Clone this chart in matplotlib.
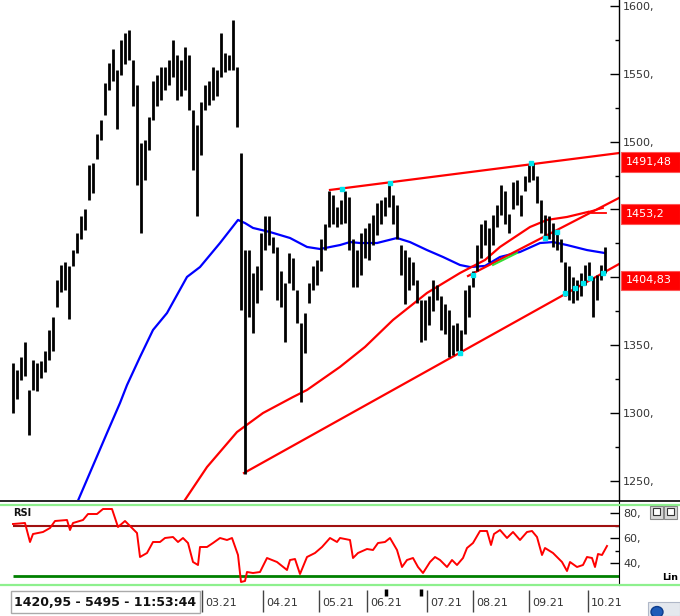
import matplotlib
matplotlib.use('Agg')
import matplotlib.pyplot as plt
from matplotlib.lines import Line2D
from matplotlib.patches import Rectangle, Circle
import matplotlib.transforms as mtransforms
from matplotlib.ticker import FixedLocator, FuncFormatter

W, H = 680, 616

# ---------------- data ----------------
bar_high = [1337, 1332, 1341, 1352, 1317, 1339, 1337, 1338, 1346, 1361,
            1371, 1398, 1409, 1411, 1408, 1420, 1433, 1445, 1450, 1483,
            1484, 1506, 1516, 1543, 1558, 1568, 1553, 1575, 1580, 1582,
            1560, 1542, 1499, 1501, 1518, 1545, 1549, 1555, 1555, 1560,
            1575, 1564, 1560, 1570, 1564, 1523, 1512, 1529, 1542, 1545,
            1555, 1553, 1580, 1565, 1564, 1590, 1555, 1492, 1420, 1420,
            1403, 1408, 1433, 1445, 1445, 1430, 1422, 1405, 1396, 1418,
            1414, 1391, 1366, 1374, 1396, 1408, 1413, 1428, 1439, 1464,
            1461, 1452, 1457, 1464, 1459, 1428, 1420, 1433, 1436, 1440,
            1446, 1455, 1457, 1459, 1470, 1461, 1453, 1424, 1420, 1415,
            1411, 1398, 1383, 1383, 1386, 1398, 1394, 1386, 1380, 1376,
            1365, 1366, 1361, 1391, 1394, 1405, 1424, 1439, 1442, 1436,
            1446, 1453, 1468, 1464, 1447, 1470, 1472, 1461, 1475, 1483,
            1484, 1475, 1457, 1446, 1445, 1440, 1435, 1428, 1411, 1408,
            1400, 1398, 1403, 1409, 1411, 1400, 1402, 1409, 1422]
bar_low = [1300, 1310, 1324, 1327, 1284, 1317, 1316, 1326, 1330, 1339,
           1346, 1378, 1389, 1391, 1369, 1408, 1418, 1428, 1435, 1457,
           1462, 1487, 1501, 1520, 1538, 1545, 1509, 1549, 1557, 1560,
           1526, 1468, 1433, 1472, 1494, 1516, 1526, 1531, 1538, 1542,
           1548, 1531, 1534, 1538, 1523, 1479, 1445, 1490, 1523, 1527,
           1531, 1534, 1548, 1551, 1553, 1553, 1511, 1376, 1255, 1371,
           1359, 1381, 1391, 1420, 1424, 1418, 1383, 1378, 1352, 1396,
           1391, 1366, 1308, 1344, 1381, 1391, 1394, 1405, 1420, 1437,
           1439, 1437, 1439, 1440, 1420, 1393, 1393, 1402, 1414, 1413,
           1424, 1431, 1439, 1445, 1452, 1439, 1428, 1402, 1380, 1391,
           1394, 1381, 1352, 1354, 1365, 1375, 1383, 1361, 1358, 1341,
           1343, 1346, 1344, 1358, 1371, 1393, 1405, 1414, 1424, 1411,
           1424, 1437, 1446, 1439, 1433, 1450, 1453, 1445, 1464, 1470,
           1472, 1455, 1433, 1430, 1428, 1422, 1420, 1411, 1386, 1383,
           1381, 1383, 1386, 1394, 1398, 1371, 1383, 1398, 1403]

# blue moving average (bar index, value)
ma_blue_idx = [15.75, 23.5, 26.75, 28.5, 31.75, 35, 38.5, 43.5, 46.75, 51.75,
               56.25, 58, 60, 64.25, 69.25, 73.5, 76.75, 81.75, 84.25, 86.75,
               91, 96, 99.25, 103.5, 107.5, 111.75, 114.25, 118, 121.75, 126.75,
               131.75, 135, 138.5, 143.5, 148]
ma_blue_val = [1232, 1285.3, 1307.4, 1320.6, 1341.3, 1361.2, 1373.7, 1400.3, 1407.6, 1425.3,
               1442.3, 1440, 1436.4, 1433.4, 1429, 1422.4, 1420.9, 1423.8, 1426, 1425.3,
               1425.3, 1429, 1426, 1420.1, 1415, 1409.1, 1407.6, 1408.4, 1415, 1418.7,
               1425.3, 1426, 1423.8, 1420.1, 1417.9]

# red curved average (bar index, value)
ma_red_idx = [43, 48.5, 56, 62.5, 70, 73.5, 81.75, 88, 95, 103.5,
              111.75, 118, 121.75, 129.25, 133.5, 138.5, 143.75]
ma_red_val = [1236, 1260.2, 1286, 1300, 1311.8, 1317, 1334, 1348.7, 1368.6, 1388.5,
              1403.2, 1412.8, 1422.4, 1437.1, 1442.3, 1444.5, 1448.2]

# trend lines: (start idx, start val, end idx, end val)
resistance = (79.25, 1464.4, 151.5, 1491.6)
support = (57.75, 1255.8, 151.5, 1409.8)
channel = (113.75, 1401.0, 151.5, 1458.5)
green_seg = (120.0, 1409.1, 126.0, 1417.9)

cyan_idx = [82.25, 94.25, 129.5, 111.75, 115, 133, 136, 138, 140.5, 142.5, 144.25, 147.5]
cyan_val = [1465.1, 1469.5, 1484.3, 1344.2, 1401.7, 1429, 1433.4, 1388.5, 1392.2,
            1395.8, 1399.5, 1403.2]

price_labels = ["1491,48", "1453,2", "1404,83"]
hidden_ticks = [1400, 1450]   # covered by the value boxes in the picture

# RSI trace (bar index, value)
rsi_idx = [0, 3, 4.25, 5, 7.5, 9.25, 10.5, 13.5, 14.25, 15, 17.5, 18.75, 21, 22.5,
           24.75, 26.25, 28, 31, 31.75, 33.5, 35, 36.75, 38, 40, 41.25, 42.5, 43.75,
           45, 46.25, 46.75, 48.5, 50, 51.75, 53.5, 54.75, 56.25, 57, 58, 58.5, 60,
           61.75, 63.5, 66, 68.5, 69.25, 70.5, 71.75, 73.5, 75.5, 77.25, 79.25, 81,
           81.75, 84.25, 85, 86.25, 88.5, 90, 91.25, 93, 94.25, 96, 97.25, 98.5, 100,
           101.25, 102.5, 104.25, 105.5, 106.75, 108.5, 109.75, 111, 112.5, 113.5,
           115, 116.75, 118.5, 119.5, 120.25, 121.75, 123.5, 125, 126.75, 128.5,
           129.75, 131, 132.25, 133, 135, 137.25, 138.5, 139.25, 141, 142.5, 143.5,
           144.75, 145.5, 146.25, 147.25, 148.5]
rsi_val = [71.2, 72, 56.8, 63.2, 64.8, 68, 73.6, 74.4, 66.4, 72, 74.4, 79.2, 79.2, 83.2,
           83.2, 68.8, 73.6, 64, 44.8, 48, 56.8, 56.8, 60, 60.8, 56.8, 60, 56,
           40.8, 38.4, 52.8, 52.8, 56, 60, 58.4, 60, 46.4, 24.8, 25.6, 32.8, 32,
           32.8, 44, 40.8, 34.4, 42.4, 43.2, 31.2, 44.8, 48, 52.8, 60, 56.8,
           60, 58.4, 44, 48, 51.2, 50.4, 56, 56.8, 60, 50.4, 36.8, 42.4, 44,
           36.8, 32, 40.8, 44.8, 42.4, 36.8, 42.4, 38.4, 44, 52,
           56, 65.6, 65.6, 54.4, 63.2, 66.4, 60, 64.8, 58.4, 64.8,
           65.6, 60.8, 46.4, 52, 48, 40.8, 33.6, 40.8, 36.8, 38.4, 44.8,
           44, 36.8, 47.2, 46.4, 53.6]

month_pos = [47.25, 62.5, 76.5, 88.5, 103.5, 115.0, 129.0, 143.75]
month_labels = ["03.21", "04.21", "05.21", "06.21", "07.21", "08.21", "09.21", "10.21"]
event_pos = [93.25, 102.0]
status_text = "1420,95 - 5495 - 11:53:44"

# ---------------- layout helpers ----------------
def fx(px):
    return px / W

def fy(py):
    return 1 - py / H

XL = (-3.25, 151.5)
TXT = '#333333'

fig = plt.figure(figsize=(W / 100, H / 100), dpi=100)
fig.patch.set_facecolor('white')

# ---------------- main price panel ----------------
ax = fig.add_axes([0, fy(500), fx(619), 500 / H])
ax.set_xlim(*XL)
ax.set_ylim(1235.9, 1604.4)
for s in ['left', 'top', 'bottom']:
    ax.spines[s].set_visible(False)
ax.spines['right'].set_color('black')
ax.spines['right'].set_linewidth(1.0)
ax.set_xticks([])
ax.yaxis.tick_right()
ax.yaxis.set_major_locator(FixedLocator([1250, 1300, 1350, 1400, 1450, 1500, 1550, 1600]))
ax.yaxis.set_minor_locator(FixedLocator([1275, 1325, 1375, 1425, 1475, 1525, 1575]))
ax.yaxis.set_major_formatter(FuncFormatter(
    lambda v, p: "" if int(round(v)) in hidden_ticks else f"{int(round(v))},"))
ax.tick_params(axis='y', which='major', direction='in', length=6.5, width=1,
               pad=3, labelsize=8, labelcolor=TXT)
ax.tick_params(axis='y', which='minor', direction='in', length=3, width=1)

idx = list(range(len(bar_high)))
ax.vlines(idx, bar_low, bar_high, color='black', lw=2.0, zorder=3)

ax.plot(ma_blue_idx, ma_blue_val, color='#0000FF', lw=1.6, zorder=2)
ax.plot(ma_red_idx, ma_red_val, color='#FF0000', lw=1.6, zorder=2)
for seg in (resistance, support, channel):
    ax.plot([seg[0], seg[2]], [seg[1], seg[3]], color='#FF0000', lw=1.6, zorder=2)
ax.plot([green_seg[0], green_seg[2]], [green_seg[1], green_seg[3]],
        color='#33DD33', lw=1.4, zorder=4)
# small arrow mark at end of curved average
ax.plot([ma_red_idx[-1], 147.5], [ma_red_val[-1], 1451.1], color='#FF0000', lw=1.3)
ax.plot([ma_red_idx[-1] + 1, 148.3], [ma_red_val[-1] - 0.8, 1447.4], color='#FF0000', lw=1.3)
ax.plot(cyan_idx, cyan_val, ls='none', marker='s', ms=2.2, color='#00E5EE', zorder=5)

# price boxes on the axis
box_rows = [(152, 172), (204, 224), (271, 290)]
for (t, b), lab in zip(box_rows, price_labels):
    fig.patches.append(Rectangle((fx(621), fy(b)), fx(59), (b - t) / H,
                                 transform=fig.transFigure, facecolor='#FF0000',
                                 edgecolor='#FF5555', lw=0.8, zorder=5))
    fig.text(fx(626), fy((t + b) / 2), lab, color='white', fontsize=8,
             va='center', ha='left', zorder=6)

# ---------------- separators ----------------
fig.add_artist(Line2D([0, 1], [fy(501), fy(501)], transform=fig.transFigure,
                      color='black', lw=1.2))
for py in (505, 585):
    fig.add_artist(Line2D([0, 1], [fy(py), fy(py)], transform=fig.transFigure,
                          color='#8EF08E', lw=1.6))

# ---------------- RSI panel ----------------
rx = fig.add_axes([0, fy(585), fx(619), (585 - 501) / H])
rx.set_facecolor('none')
rx.set_xlim(*XL)
rx.set_ylim(22.4, 89.6)
for s in ['left', 'top', 'bottom']:
    rx.spines[s].set_visible(False)
rx.spines['right'].set_color('black')
rx.set_xticks([])
rx.yaxis.tick_right()
rx.yaxis.set_major_locator(FixedLocator([40, 60, 80]))
rx.yaxis.set_minor_locator(FixedLocator([50, 70]))
rx.yaxis.set_major_formatter(FuncFormatter(lambda v, p: f"{int(v)},"))
rx.tick_params(axis='y', which='major', direction='in', length=6.5, width=1,
               pad=3, labelsize=8, labelcolor=TXT)
rx.tick_params(axis='y', which='minor', direction='in', length=3, width=1)
rx.hlines(70, 0, XL[1], color='#A01010', lw=1.5)
rx.hlines(30, 0, XL[1], color='#008000', lw=2.0)
rx.plot(rsi_idx, rsi_val, color='#FF0000', lw=1.4)
fig.text(fx(13), fy(513), "RSI", fontsize=7, fontweight='bold', color='#111111',
         va='center', ha='left')
fig.text(fx(662), fy(578), "Lin", fontsize=6.8, fontweight='bold', color='black',
         va='center', ha='left')
# small panel buttons
for bx in (650, 664):
    fig.patches.append(Rectangle((fx(bx), fy(519)), fx(13), 13 / H,
                                 transform=fig.transFigure, facecolor='#D8D8D8',
                                 edgecolor='#888888', lw=0.8, zorder=5))
    fig.patches.append(Rectangle((fx(bx + 3), fy(515)), fx(7), 7 / H,
                                 transform=fig.transFigure, facecolor='white',
                                 edgecolor='#333333', lw=0.8, zorder=6))

# ---------------- bottom date strip ----------------
bx_ax = fig.add_axes([0, 0, fx(619), 30 / H])
bx_ax.set_xlim(*XL)
bx_ax.set_ylim(0, 1)
bx_ax.axis('off')
bx_ax.vlines(month_pos, 0.13, 0.87, color='#444444', lw=1.0)
off = mtransforms.offset_copy(bx_ax.transData, fig=fig, x=3, y=0, units='dots')
for p, lab in zip(month_pos, month_labels):
    bx_ax.text(p, 0.45, lab, transform=off, fontsize=8, color=TXT,
               ha='left', va='center', clip_on=False)
bx_ax.vlines(event_pos, 0.67, 0.9, color='black', lw=2.5)

# status box
fig.patches.append(Rectangle((fx(11), fy(613)), fx(189), 22 / H,
                             transform=fig.transFigure, facecolor='white',
                             edgecolor='#AAAAAA', lw=1.0, zorder=4))
fig.text(fx(14), fy(602), status_text, fontsize=9, fontweight='bold',
         color='#111111', va='center', ha='left', zorder=6)

# corner icon
fig.patches.append(Rectangle((fx(648), fy(616)), fx(32), 14 / H,
                             transform=fig.transFigure, facecolor='#E4E8EE',
                             edgecolor='#B0B8C8', lw=0.8, zorder=4))
fig.patches.append(Circle((fx(657), fy(612)), 6 / W, transform=fig.transFigure,
                          facecolor='#1E5BB8', edgecolor='#0D3C8C', zorder=5))

fig.savefig('out.png', dpi=100, facecolor='white')
